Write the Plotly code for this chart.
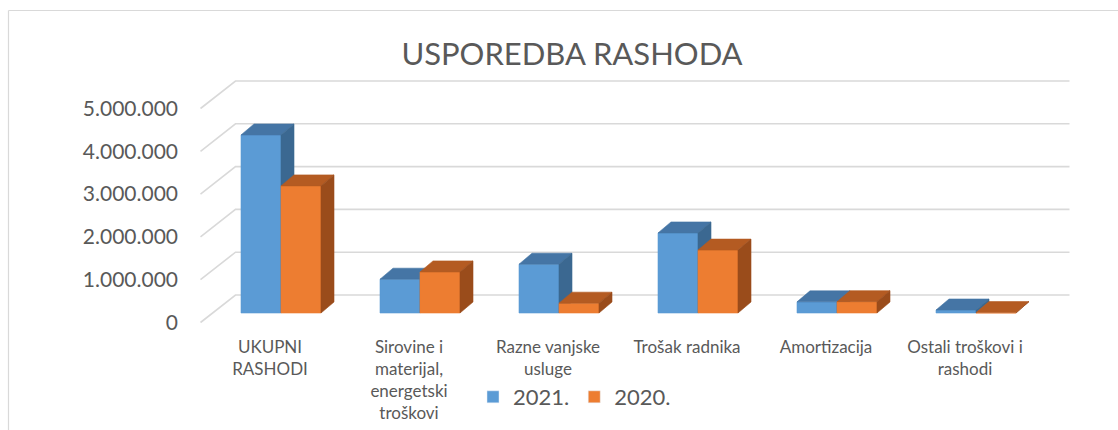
import plotly.graph_objects as go

# ---------------- data ----------------
CATEGORIES = [
    "UKUPNI<br>RASHODI",
    "Sirovine i<br>materijal,<br>energetski<br>troškovi",
    "Razne vanjske<br>usluge",
    "Trošak radnika",
    "Amortizacija",
    "Ostali troškovi i<br>rashodi",
]
SERIES_NAMES = ["2021.", "2020."]
VALUES_2021 = [4160000, 790000, 1140000, 1870000, 260000, 70000]
VALUES_2020 = [2970000, 960000, 230000, 1470000, 265000, 10000]
TICK_VALUES = [0, 1000000, 2000000, 3000000, 4000000, 5000000]
TICK_LABELS = ["0", "1.000.000", "2.000.000", "3.000.000", "4.000.000", "5.000.000"]

# ---------------- style / geometry ----------------
FONT = "Lato"
TXT = "#595959"
GRID = "#D9D9D9"
COLORS = {
    "2021.": {"front": "#5B9BD5", "top": "#4575A5", "side": "#3B6891"},
    "2020.": {"front": "#ED7D31", "top": "#B45B22", "side": "#9A4C1B"},
}

W, H = 1118, 430
ML, MR, MT, MB = 190, 0, 70, 100
PW, PH = W - ML - MR, H - MT - MB
PX_CAT = 139.0            # pixels per category step
PX_UNIT = 42.8 / 1e6      # pixels per value unit
X0 = -(270 - ML) / PX_CAT
X1 = X0 + PW / PX_CAT
Y0 = -((H - MB) - 322.5) / PX_UNIT
Y1 = Y0 + PH / PX_UNIT


def dxp(px):
    return px / PX_CAT


def dyp(px):
    return px / PX_UNIT


WALL_DX, WALL_DY = dxp(35), dyp(27.5)   # front edge -> back wall
BAR_DX, BAR_DY = dxp(11), dyp(9.5)      # front edge -> bar front plane
DEP_DX, DEP_DY = dxp(13), dyp(11)       # bar depth
BAR_W = dxp(40)
X_LEFT, X_RIGHT = -0.5, len(CATEGORIES) - 0.5

fig = go.Figure()

# walls: side wall diagonals + back wall gridlines
gx, gy = [], []
for t in TICK_VALUES:
    gx += [X_LEFT, X_LEFT + WALL_DX, X_RIGHT + WALL_DX, None]
    gy += [t, t + WALL_DY, t + WALL_DY, None]
fig.add_trace(go.Scatter(x=gx, y=gy, mode="lines", line=dict(color=GRID, width=1.6),
                         hoverinfo="skip", showlegend=False))

series = [("2021.", VALUES_2021, 0), ("2020.", VALUES_2020, 1)]
for name, vals, k in series:
    fx, fy, tx, ty, sx, sy = [], [], [], [], [], []
    for i, v in enumerate(vals):
        xl = i + BAR_DX + (k - 1) * BAR_W
        xr = xl + BAR_W
        b = BAR_DY
        tp = b + v
        fx += [xl, xr, xr, xl, xl, None]
        fy += [b, b, tp, tp, b, None]
        tx += [xl, xr, xr + DEP_DX, xl + DEP_DX, xl, None]
        ty += [tp, tp, tp + DEP_DY, tp + DEP_DY, tp, None]
        sx += [xr, xr + DEP_DX, xr + DEP_DX, xr, xr, None]
        sy += [b, b + DEP_DY, tp + DEP_DY, tp, b, None]
    c = COLORS[name]
    for xs, ys, col in [(fx, fy, c["front"]), (tx, ty, c["top"]), (sx, sy, c["side"])]:
        fig.add_trace(go.Scatter(x=xs, y=ys, mode="lines", fill="toself", fillcolor=col,
                                 line=dict(color=col, width=0.6), hoverinfo="skip",
                                 showlegend=False))

# legend entries
for name, vals, k in series:
    fig.add_trace(go.Bar(x=[None], y=[None], name=name,
                         marker=dict(color=COLORS[name]["front"]), showlegend=True))


def px_x(px):
    return (px - ML) / PW


def px_y(py):
    return ((H - MB) - py) / PH


fig.update_layout(
    width=W, height=H,
    margin=dict(l=ML, r=MR, t=MT, b=MB),
    paper_bgcolor="white", plot_bgcolor="white",
    font=dict(family=FONT, color=TXT),
    title=dict(text="USPOREDBA RASHODA", x=572 / W, xanchor="center", xref="container",
               y=1 - 54 / H, yanchor="middle", yref="container",
               font=dict(family=FONT, size=31, color=TXT)),
    xaxis=dict(type="linear", range=[X0, X1], tickvals=list(range(len(CATEGORIES))),
               ticktext=CATEGORIES, showgrid=False, zeroline=False, showline=False,
               ticks="", ticklabelstandoff=5,
               tickfont=dict(family=FONT, size=17, color=TXT), fixedrange=True),
    yaxis=dict(type="linear", range=[Y0, Y1], tickvals=TICK_VALUES, ticktext=TICK_LABELS,
               showgrid=False, zeroline=False, showline=False, ticks="",
               ticklabelstandoff=11, tickfont=dict(family=FONT, size=21, color=TXT),
               fixedrange=True),
    legend=dict(orientation="h", x=px_x(473), xanchor="left", y=px_y(397), yanchor="middle",
                font=dict(family=FONT, size=22, color=TXT), bgcolor="rgba(0,0,0,0)",
                traceorder="normal"),
    showlegend=True,
    shapes=[
        dict(type="line", xref="paper", yref="paper", x0=px_x(8.5), x1=px_x(8.5),
             y0=px_y(10.5), y1=px_y(431), line=dict(color=GRID, width=1.2)),
        dict(type="line", xref="paper", yref="paper", x0=px_x(8.5), x1=px_x(1119),
             y0=px_y(10.5), y1=px_y(10.5), line=dict(color=GRID, width=1.2)),
    ],
)

fig.write_html("out.html")
